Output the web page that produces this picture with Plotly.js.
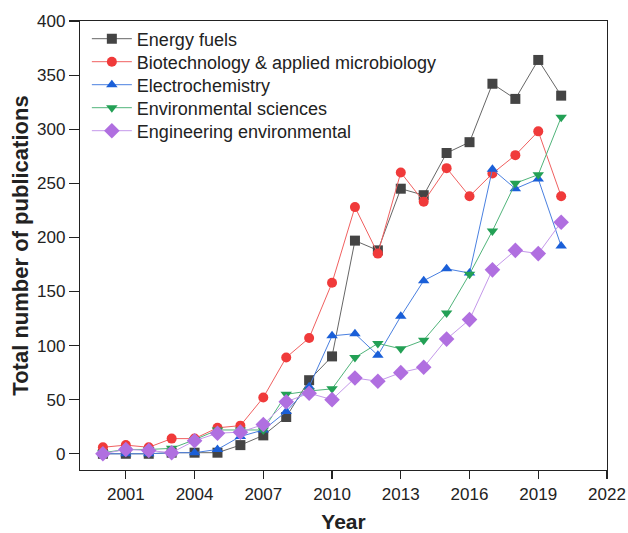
<!DOCTYPE html>
<html>
<head>
<meta charset="utf-8">
<script src="https://cdn.plot.ly/plotly-3.0.1.min.js"></script>
<style>html,body{margin:0;padding:0;background:#fff;}#chart{width:628px;height:533px;}</style>
</head>
<body>
<div id="chart"></div>
<script>
const years = [2000,2001,2002,2003,2004,2005,2006,2007,2008,2009,2010,2011,2012,2013,2014,2015,2016,2017,2018,2019,2020];
const energyFuels = [0,0,0,1,1,1,8,17,34,68,90,197,188,245,239,278,288,342,328,364,331];
const biotech = [6,8,6,14,14,24,26,52,89,107,158,228,185,260,233,264,238,259,276,298,238];
const electrochem = [0,0,0,1,1,4,16,22,39,62,109,111,91,127,160,171,167,263,245,254,192];
const envSciences = [1,4,4,5,13,22,22,22,55,58,60,89,102,97,105,130,166,206,250,258,311];
const engEnv = [0,4,3,1,12,19,20,27,48,56,50,70,67,75,80,106,124,170,188,185,214];
const seriesNames = ["Energy fuels","Biotechnology & applied microbiology","Electrochemistry","Environmental sciences","Engineering environmental"];
const xTickVals = [2001,2004,2007,2010,2013,2016,2019,2022];
const yTickVals = [0,50,100,150,200,250,300,350,400];

const styles = [
  {sym:"square", mc:"#444444", lc:"#666666"},
  {sym:"circle", mc:"#f03a3a", lc:"#f06060"},
  {sym:"triangle-up", mc:"#1a5fd8", lc:"#4a80e0"},
  {sym:"triangle-down", mc:"#23a055", lc:"#50b47a"},
  {sym:"diamond", mc:"#b06fe0", lc:"#c498ea"}
];
const legendIds = ["legend","legend2","legend3","legend4","legend5"];
const allY = [energyFuels, biotech, electrochem, envSciences, engEnv];
const traces = allY.map((y,i)=>({
  x: years, y: y, name: seriesNames[i], type:"scatter", mode:"lines+markers",
  legend: legendIds[i],
  line:{color:styles[i].lc, width:1},
  marker:{symbol:styles[i].sym, color:styles[i].mc, size: styles[i].sym==="diamond"?12:10, line:{width:0}}
}));

// legend row centers (pixels from top) and plot area geometry
const plotTop = 21, plotH = 449, rowStart = 39, rowGap = 23;
const layout = {
  width:628, height:533,
  margin:{l:80, r:21, t:21, b:63},
  paper_bgcolor:"#ffffff", plot_bgcolor:"#ffffff",
  font:{family:"Liberation Sans, Arial, sans-serif", color:"#222", size:17},
  showlegend:true,
  xaxis:{
    range:[1999,2022], tickvals:xTickVals, ticks:"outside", ticklen:8, tickwidth:1.2, tickcolor:"#222",
    showline:true, linecolor:"#222", linewidth:1.2, mirror:true, showgrid:false, zeroline:false,
    tickfont:{size:17},
    title:{text:"<b>Year</b>", font:{size:21}, standoff:12}
  },
  yaxis:{
    range:[-15,400], tickvals:yTickVals, ticks:"outside", ticklen:10, tickwidth:1.2, tickcolor:"#222",
    showline:true, linecolor:"#222", linewidth:1.2, mirror:true, showgrid:false, zeroline:false,
    tickfont:{size:17},
    title:{text:"<b>Total number of publications</b>", font:{size:22}, standoff:2}
  }
};
legendIds.forEach((id,i)=>{
  const py = rowStart + i*rowGap;
  layout[id] = {x:0.013, y:1 - (py - plotTop)/plotH, xanchor:"left", yanchor:"middle",
    bgcolor:"rgba(0,0,0,0)", font:{size:18, color:"#222"}, itemwidth:40};
});
Plotly.newPlot("chart", traces, layout, {displayModeBar:false, staticPlot:true});
</script>
</body>
</html>
